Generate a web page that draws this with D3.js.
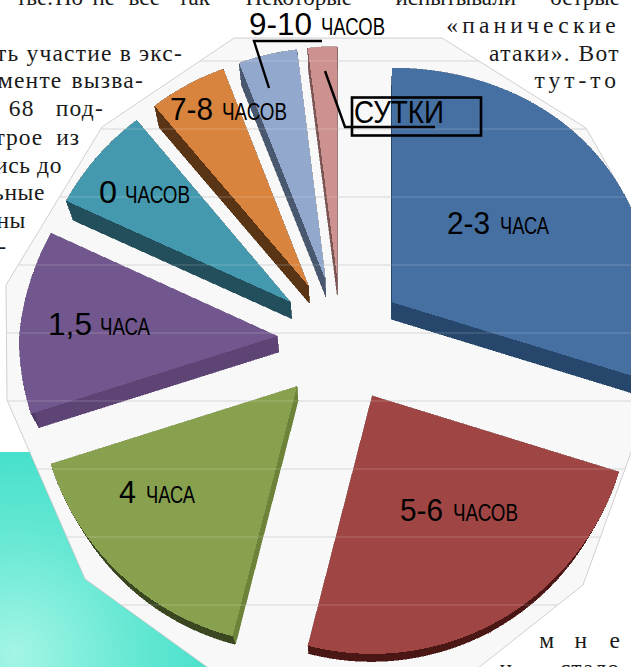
<!DOCTYPE html>
<html><head><meta charset="utf-8">
<script src="https://cdn.jsdelivr.net/npm/d3@7/dist/d3.min.js"></script>
<style>html,body{margin:0;padding:0;background:#fff;overflow:hidden}svg{display:block}</style>
</head><body><svg id="c" width="631" height="667"></svg>
<script>
// --- data (share of respondents, %) ---
const numbers  = ["2-3","5-6","4","1,5","0","7-8","9-10","СУТКИ"];
const units    = ["ЧАСА","ЧАСОВ","ЧАСА","ЧАСА","ЧАСОВ","ЧАСОВ","ЧАСОВ",""];
const values   = [29.7,24.2,16.1,11.6,7.0,5.2,4,2];
// --- styles ---
const faceColors = ["#466fa2","#9f4543","#87a14e","#71578d","#4499ae","#d8843f","#92a8cd","#cd9190"];
const sideColors = ["#27466b","#5e2524","#6c8339","#5d4475","#234e5c","#5a3515","#4a586f","#7a5554"];
const rimColors  = ["#27466b","#4a1715","#3b4720","#4e3a66","#234e5c","#5a3515","#4a586f","#7a5554"];
const labelX     = [447,400,119,48,99,170,249,354];
const labelY     = [234,521,503,335,203,120,35,123];
const labelW     = [43,43,17,44,18,43,63,90];
const unitX      = [500,453,146,100,125,222,321,0];
const unitW      = [49,65,49,50,65,65,64,0];
const wallPts = [[234,38],[442,38],[586,128],[650,240],[650,400],[583,585],[463,680],[225,680],[85,579],[7,400],[6,285],[102,127]];
const gridY   = [61,129,197,265,333,401,469,537,605];
const textLines = [
 {t:"ть участие в экс-",x:183,y:61,ls:1.2,ws:0},{t:"менте вызва-",x:144,y:88,ls:1.2,ws:2},{t:"68 под-",x:104,y:116,ls:1.2,ws:14},
 {t:"трое из",x:80,y:145,ls:1,ws:6},{t:"ись до",x:62,y:173,ls:.6,ws:0},{t:"ьные",x:45,y:200,ls:.6,ws:0},{t:"ны",x:26,y:228,ls:.6,ws:0},{t:"-",x:6,y:254,ls:0,ws:0},
 {t:"«панические",x:620,y:33,ls:4.2,ws:0},{t:"атаки». Вот",x:620,y:61,ls:1.4,ws:0},{t:"тут-то",x:620,y:88,ls:4,ws:0},
 {t:"м",x:554,y:648,ls:0,ws:0},{t:"н",x:587,y:648,ls:0,ws:0},{t:"е",x:620,y:648,ls:0,ws:0},{t:"и",x:512,y:676,ls:0,ws:0},{t:"стало",x:620,y:676,ls:1,ws:0}
];
const topWords = [{t:"тве.",x:53},{t:"Но",x:83},{t:"не",x:115},{t:"все",x:160},{t:"так",x:210},{t:"Некоторые",x:352},{t:"испытывали",x:516},{t:"острые",x:620}];

const svg = d3.select("#c");
const cx=341, cy=340, R=258, explode=64;
// perspective: the far half of the pie shrinks towards its centre (left side and height only)
const project = ([x,y]) => { const s = y<0 ? 1+0.000274*y : 1; return [cx+(x<0?x*s:x), cy+y*s]; };
const extrude = ([x,y]) => [x+(340-x)*0.026, y+(950-y)*0.026];

const defs = svg.append("defs");
const g = defs.append("radialGradient").attr("id","aq").attr("gradientUnits","userSpaceOnUse")
  .attr("cx",15).attr("cy",655).attr("r",215);
g.append("stop").attr("offset","0").attr("stop-color","#a4f5e5");
g.append("stop").attr("offset","0.55").attr("stop-color","#66e8d4");
g.append("stop").attr("offset","1").attr("stop-color","#42dfca");
defs.append("clipPath").attr("id","wallClip").append("polygon").attr("points",wallPts.join(" "));

const serif = "Liberation Serif";
// page text behind the chart
svg.append("rect").attr("x",0).attr("y",452).attr("width",240).attr("height",215).attr("fill","url(#aq)");
svg.selectAll("text.page").data(textLines).join("text").attr("class","page")
  .attr("x",d=>d.x).attr("y",d=>d.y).attr("text-anchor","end").attr("font-family",serif).attr("font-size",23.5)
  .attr("letter-spacing",d=>d.ls).attr("word-spacing",d=>d.ws).attr("fill","#1a1a1a").text(d=>d.t);
svg.selectAll("text.top").data(topWords).join("text").attr("class","top")
  .attr("x",d=>d.x).attr("y",5).attr("text-anchor","end").attr("font-family",serif).attr("font-size",23)
  .attr("fill","#1a1a1a").text(d=>d.t);

// plot wall
svg.append("polygon").attr("points",wallPts.join(" ")).attr("fill","#f8f8f8").attr("stroke","#c4c4c4").attr("stroke-width",.8);
const gridG = svg.append("g").attr("clip-path","url(#wallClip)");
gridG.selectAll("line").data(gridY).join("line").attr("x1",0).attr("x2",631).attr("y1",d=>d).attr("y2",d=>d)
  .attr("stroke","#d2d2d2").attr("stroke-width",1);

// pie
const arcs = d3.pie().sort(null).value(d=>d).startAngle(0).endAngle(2*Math.PI)(values);
const line = d3.line();
const slices = arcs.map((a,i)=>{
  const mid=(a.startAngle+a.endAngle)/2, off=d3.pointRadial(mid,explode);
  const at=(ang,r)=>{const p=d3.pointRadial(ang,r);return project([p[0]+off[0],p[1]+off[1]]);};
  const n=Math.max(4,Math.ceil((a.endAngle-a.startAngle)/0.02));
  const rim=d3.range(n+1).map(k=>at(a.startAngle+(a.endAngle-a.startAngle)*k/n,R));
  return {i,apex:at(mid,0),rim};
});
const quad=(p,q)=>{const a=extrude(p),b=extrude(q);return line([p,q,b,a])+"Z";};
const pieG=svg.append("g").attr("shape-rendering","crispEdges");
slices.slice().reverse().forEach(s=>{
  const sg=pieG.append("g");
  const side=quad(s.apex,s.rim[0])+quad(s.apex,s.rim[s.rim.length-1]);
  sg.append("path").attr("d",side).attr("fill",sideColors[s.i]).attr("stroke",sideColors[s.i]).attr("stroke-width",.5);
  const rimPath=d3.pairs(s.rim).map(([p,q])=>quad(p,q)).join("");
  sg.append("path").attr("d",rimPath).attr("fill",rimColors[s.i]).attr("stroke",rimColors[s.i]).attr("stroke-width",.5);
  sg.append("path").attr("d",line([s.apex,...s.rim])+"Z").attr("fill",faceColors[s.i]);
});
// gridlines show faintly through the slices
svg.append("g").attr("clip-path","url(#wallClip)").selectAll("line").data(gridY).join("line")
  .attr("x1",0).attr("x2",631).attr("y1",d=>d).attr("y2",d=>d).attr("stroke","#fff").attr("stroke-opacity",.22);

// leader lines + box
const lead=d3.line();
svg.append("path").attr("d",lead([[322,41],[254,41],[269,88]])).attr("fill","none").attr("stroke","#000").attr("stroke-width",2.4);
svg.append("path").attr("d",lead([[325,71],[345,127],[435,127]])).attr("fill","none").attr("stroke","#000").attr("stroke-width",2.4);
svg.append("rect").attr("x",352).attr("y",97.5).attr("width",129).attr("height",38).attr("fill","none").attr("stroke","#000").attr("stroke-width",2.6);

// labels
const sans="Liberation Sans";
numbers.forEach((n,i)=>{
  svg.append("text").attr("x",labelX[i]).attr("y",labelY[i]).attr("font-family",sans).attr("font-size",31)
    .attr("textLength",labelW[i]).attr("lengthAdjust","spacingAndGlyphs").attr("fill","#000").text(n);
  if(units[i]) svg.append("text").attr("x",unitX[i]).attr("y",labelY[i]).attr("font-family",sans).attr("font-size",24)
    .attr("textLength",unitW[i]).attr("lengthAdjust","spacingAndGlyphs").attr("fill","#000").text(units[i]);
});
</script></body></html>
